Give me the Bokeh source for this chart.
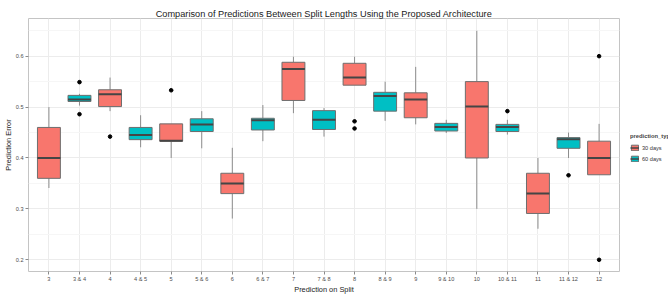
from bokeh.plotting import figure
from bokeh.layouts import row
from bokeh.models import (FactorRange, Range1d, ColumnDataSource, FixedTicker,
                          Legend, LegendItem)
from bokeh.transform import dodge
from bokeh.embed import file_html
from bokeh.resources import INLINE

# ---- data ----
categories = ["3", "3 & 4", "4", "4 & 5", "5", "5 & 6", "6", "6 & 7", "7", "7 & 8",
              "8", "8 & 9", "9", "9 & 10", "10", "10 & 11", "11", "11 & 12", "12"]
prediction_type = ["30 days", "60 days"] * 9 + ["30 days"]
lower = [0.341, 0.503, 0.492, 0.421, 0.400, 0.419, 0.281, 0.433, 0.488, 0.442,
         0.543, 0.473, 0.466, 0.449, 0.300, 0.446, 0.261, 0.400, 0.367]
q1 = [0.360, 0.511, 0.501, 0.436, 0.433, 0.452, 0.330, 0.455, 0.513, 0.456,
      0.543, 0.492, 0.479, 0.453, 0.400, 0.452, 0.291, 0.419, 0.367]
median = [0.400, 0.515, 0.525, 0.445, 0.434, 0.466, 0.350, 0.474, 0.575, 0.475,
          0.558, 0.522, 0.515, 0.461, 0.501, 0.461, 0.330, 0.437, 0.400]
q3 = [0.460, 0.523, 0.534, 0.460, 0.467, 0.477, 0.370, 0.478, 0.588, 0.493,
      0.586, 0.529, 0.528, 0.468, 0.550, 0.466, 0.370, 0.440, 0.433]
upper = [0.500, 0.526, 0.558, 0.484, 0.467, 0.492, 0.420, 0.504, 0.599, 0.498,
         0.599, 0.550, 0.579, 0.475, 0.650, 0.475, 0.400, 0.450, 0.467]
outlier_cat = ["3 & 4", "3 & 4", "4", "5", "8", "8", "10 & 11", "11 & 12", "12", "12"]
outlier_val = [0.549, 0.486, 0.442, 0.533, 0.472, 0.458, 0.492, 0.366, 0.600, 0.200]
y_ticks = [0.2, 0.3, 0.4, 0.5, 0.6]
y_minor = [0.25, 0.35, 0.45, 0.55, 0.65]
legend_labels = ["30 days", "60 days"]

colors = {"30 days": "#F8766D", "60 days": "#00BFC4"}
FONT = "Liberation Sans"
BOX_LINE = "#6e6e6e"
MED_LINE = "#454545"
WHISK = "#8c8c8c"

p = figure(width=630, height=296,
           x_range=FactorRange(*categories, range_padding=0.168,
                               range_padding_units="absolute"),
           y_range=Range1d(0.177, 0.674),
           output_backend="svg", toolbar_location=None,
           min_border_left=28, min_border_right=11,
           min_border_top=18, min_border_bottom=10)

p.title.text = "Comparison of Predictions Between Split Lengths Using the Proposed Architecture"
p.title.align = "center"
p.title.text_font = FONT
p.title.text_font_size = "9.2px"
p.title.text_font_style = "normal"
p.title.text_color = "#1a1a1a"
p.title.standoff = 0

p.background_fill_color = "white"
p.border_fill_color = "white"
p.outline_line_color = "#c4c4c4"
p.outline_line_width = 1

# grid
p.xgrid.grid_line_color = "#ececec"
p.ygrid.grid_line_color = "#ececec"
p.ygrid.minor_grid_line_color = "#f6f6f6"
p.yaxis.ticker = FixedTicker(ticks=y_ticks, minor_ticks=y_minor)

p.xaxis.axis_label = "Prediction on Split"
p.yaxis.axis_label = "Prediction Error"
for ax in (p.xaxis[0], p.yaxis[0]):
    ax.axis_line_color = None
    ax.major_tick_line_color = "#8a8a8a"
    ax.major_tick_out = 3
    ax.major_tick_in = 0
    ax.minor_tick_out = 0
    ax.minor_tick_in = 0
    ax.major_label_text_font = FONT
    ax.major_label_text_font_size = "5.6px"
    ax.major_label_text_color = "#4d4d4d"
    ax.major_label_standoff = 1
    ax.axis_label_text_font = FONT
    ax.axis_label_text_font_size = "7.4px"
    ax.axis_label_text_font_style = "normal"
    ax.axis_label_text_color = "#1a1a1a"
    ax.axis_label_standoff = 0
p.yaxis.major_label_standoff = 2

for t in legend_labels:
    idx = [i for i, v in enumerate(prediction_type) if v == t]
    src = ColumnDataSource(dict(
        cat=[categories[i] for i in idx],
        lower=[lower[i] for i in idx],
        q1=[q1[i] for i in idx],
        med=[median[i] for i in idx],
        q3=[q3[i] for i in idx],
        upper=[upper[i] for i in idx],
    ))
    p.segment(x0="cat", y0="q3", x1="cat", y1="upper", source=src,
              line_color=WHISK, line_width=1)
    p.segment(x0="cat", y0="lower", x1="cat", y1="q1", source=src,
              line_color=WHISK, line_width=1)
    p.vbar(x="cat", width=0.75, bottom="q1", top="q3", source=src,
           fill_color=colors[t], line_color=BOX_LINE, line_width=1)
    p.segment(x0=dodge("cat", -0.375, range=p.x_range), y0="med",
              x1=dodge("cat", 0.375, range=p.x_range), y1="med", source=src,
              line_color=MED_LINE, line_width=2)

p.scatter(x=outlier_cat, y=outlier_val, size=3.6, color="black")

# ---- legend panel to the right of the plot (cut by the window edge, like the reference) ----
lg = figure(width=38, height=296, x_range=Range1d(0, 1), y_range=Range1d(0, 1),
            x_axis_type=None, y_axis_type=None, output_backend="svg",
            toolbar_location=None, min_border=0)
lg.outline_line_color = None
lg.grid.visible = False
lg.background_fill_color = "white"
lg.border_fill_color = "white"
items = []
nan = float("nan")
for t in legend_labels:
    # legend keys only: no visible data
    hidden = ColumnDataSource(dict(x=[nan], top=[nan], bottom=[nan],
                                   x0=[nan], y0=[nan], x1=[nan], y1=[nan]))
    rb = lg.vbar(x="x", top="top", bottom="bottom", width=0.5, source=hidden,
                 fill_color=colors[t], line_color=BOX_LINE, line_width=1)
    rm = lg.segment(x0="x0", y0="y0", x1="x1", y1="y1", source=hidden,
                    line_color=MED_LINE, line_width=1.5)
    items.append(LegendItem(label=t, renderers=[rb, rm]))

legend = Legend(items=items, title="prediction_type", location=(0, 109))
legend.title_text_font = FONT
legend.title_text_font_size = "5.8px"
legend.title_text_font_style = "bold"
legend.title_standoff = 5
legend.label_text_font = FONT
legend.label_text_font_size = "5.6px"
legend.label_text_color = "#333333"
legend.glyph_width = 9
legend.glyph_height = 7
legend.label_height = 7
legend.label_standoff = 3
legend.spacing = 4
legend.padding = 0
legend.margin = 0
legend.border_line_color = None
legend.background_fill_alpha = 0
lg.add_layout(legend)

layout = row(p, lg)
open("out.html", "w").write(file_html(layout, INLINE))
